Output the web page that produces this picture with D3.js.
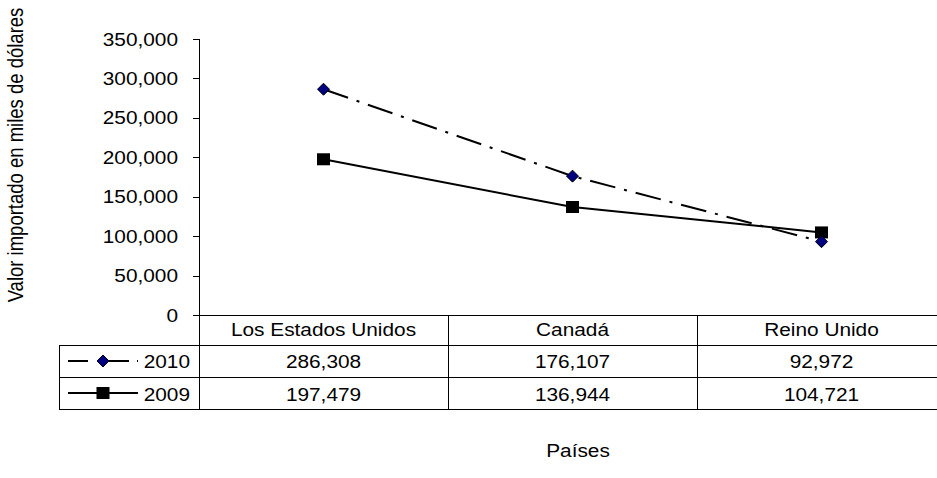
<!DOCTYPE html>
<html>
<head>
<meta charset="utf-8">
<script src="https://cdn.jsdelivr.net/npm/d3@7"></script>
<style>
  html, body { margin: 0; padding: 0; background: #fff; }
  svg { display: block; }
  text { font-family: "Liberation Sans", Arial, sans-serif; fill: #000; }
</style>
</head>
<body>
<svg id="chart" width="937" height="478"></svg>
<script>
// Import values (thousands of US dollars) by country of origin
const countries = ["Los Estados Unidos", "Canadá", "Reino Unido"];
const values2010 = [286308, 176107, 92972];
const values2009 = [197479, 136944, 104721];
const seriesNames = ["2010", "2009"];
const yTicks = [0, 50000, 100000, 150000, 200000, 250000, 300000, 350000];
const yTitle = "Valor importado en miles de dólares";
const xTitle = "Países";

const svg = d3.select("#chart");
const FS = 17.5;      // font size
const SX = 1.19;      // horizontal text stretch

const plotLeft = 199, plotRight = 946, plotTop = 39, plotBottom = 315;
const tableLeft = 59, rowH = [30, 32, 32];
const rowY = [plotBottom, plotBottom + rowH[0], plotBottom + rowH[0] + rowH[1], plotBottom + rowH[0] + rowH[1] + rowH[2]];

const x = d3.scaleBand().domain(countries).range([plotLeft, plotRight]).padding(0);
const y = d3.scaleLinear().domain([0, 350000]).range([plotBottom, plotTop]);
const fmt = d3.format(",");

function label(g, tx, ty, str, anchor) {
  return g.append("text")
    .attr("transform", `translate(${tx},${ty}) scale(${SX},1)`)
    .attr("text-anchor", anchor || "middle")
    .style("font-size", FS + "px")
    .text(str);
}

// Y axis
const yAxis = d3.axisLeft(y).tickValues(yTicks).tickSize(6).tickFormat(fmt).tickPadding(0);
const ay = svg.append("g").attr("transform", `translate(${plotLeft},0)`).call(yAxis);
ay.select(".domain").remove();
ay.selectAll(".tick line").attr("stroke", "#000").attr("stroke-width", 1).attr("shape-rendering", "crispEdges");
ay.selectAll(".tick text").remove();
ay.selectAll(".tick").each(function(d) {
  label(d3.select(this), -21, 6, fmt(d), "end");
});
svg.append("line")
  .attr("x1", plotLeft).attr("x2", plotLeft)
  .attr("y1", plotTop).attr("y2", rowY[3])
  .attr("stroke", "#000").attr("shape-rendering", "crispEdges");

// Data table grid
const grid = svg.append("g").attr("stroke", "#000").attr("shape-rendering", "crispEdges");
grid.append("line").attr("x1", plotLeft - 6).attr("x2", plotRight).attr("y1", rowY[0]).attr("y2", rowY[0]);
[1, 2, 3].forEach(i => {
  grid.append("line").attr("x1", tableLeft).attr("x2", plotRight).attr("y1", rowY[i]).attr("y2", rowY[i]);
});
grid.append("line").attr("x1", tableLeft).attr("x2", tableLeft).attr("y1", rowY[1]).attr("y2", rowY[3]);
countries.forEach(c => {
  const xr = x(c) + x.bandwidth();
  grid.append("line").attr("x1", xr).attr("x2", xr).attr("y1", rowY[0]).attr("y2", rowY[3]);
});

// Table texts
const cx = c => x(c) + x.bandwidth() / 2;
countries.forEach(c => label(svg, cx(c), rowY[0] + 21, c));
countries.forEach((c, i) => label(svg, cx(c), rowY[1] + 23, fmt(values2010[i])));
countries.forEach((c, i) => label(svg, cx(c), rowY[2] + 24, fmt(values2009[i])));

// Series styles
const dashDot = "26,9,3,9";
const line = d3.line().x((d, i) => cx(countries[i])).y(d => y(d));

function drawDiamond(g, px, py) {
  const h = 6;
  g.append("path")
    .attr("d", `M${px},${py - h}L${px + h},${py}L${px},${py + h}L${px - h},${py}Z`)
    .attr("fill", "#000080").attr("stroke", "#000").attr("stroke-width", 1);
}
function drawSquare(g, px, py) {
  g.append("rect")
    .attr("x", px - 6.5).attr("y", py - 6).attr("width", 13).attr("height", 12)
    .attr("fill", "#000");
}

// 2009 series: solid line with squares
svg.append("path").datum(values2009)
  .attr("d", line).attr("fill", "none").attr("stroke", "#000").attr("stroke-width", 2);
const m09 = svg.append("g");
values2009.forEach((v, i) => drawSquare(m09, cx(countries[i]), y(v)));

// 2010 series: dash-dot line with diamonds
svg.append("path").datum(values2010)
  .attr("d", line).attr("fill", "none").attr("stroke", "#000").attr("stroke-width", 2)
  .attr("stroke-dasharray", dashDot);
const m10 = svg.append("g");
values2010.forEach((v, i) => drawDiamond(m10, cx(countries[i]), y(v)));

// Legend keys in the table rows
const keyX1 = 68, keyX2 = 138, keyMid = 103;
const k10y = (rowY[1] + rowY[2]) / 2, k09y = (rowY[2] + rowY[3]) / 2;
svg.append("line").attr("x1", keyX1).attr("x2", keyX2).attr("y1", k10y).attr("y2", k10y)
  .attr("stroke", "#000").attr("stroke-width", 2).attr("stroke-dasharray", "20,10,31,8,2,20");
drawDiamond(svg, keyMid, k10y);
svg.append("line").attr("x1", keyX1).attr("x2", keyX2).attr("y1", k09y).attr("y2", k09y)
  .attr("stroke", "#000").attr("stroke-width", 2);
drawSquare(svg, keyMid, k09y);
label(svg, 190, rowY[1] + 23, seriesNames[0], "end");
label(svg, 190, rowY[2] + 24, seriesNames[1], "end");

// Axis titles
svg.append("text")
  .attr("transform", `translate(23,155) scale(${SX},1) rotate(-90)`)
  .attr("text-anchor", "middle")
  .style("font-size", "18.5px")
  .text(yTitle);
label(svg, 578, 457, xTitle);
</script>
</body>
</html>
